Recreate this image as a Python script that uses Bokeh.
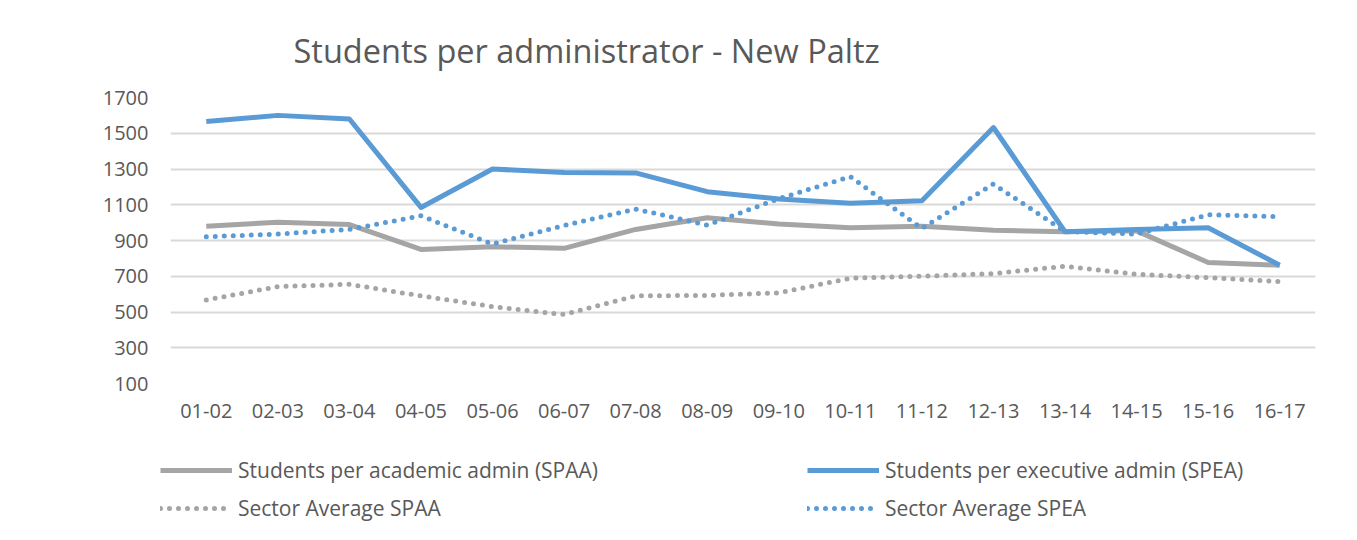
import numpy as np
from bokeh.plotting import figure
from bokeh.models import FactorRange, Range1d, FixedTicker, Legend, LegendItem, Title
from bokeh.layouts import column
from bokeh.embed import file_html
from bokeh.resources import INLINE

years = ["01-02", "02-03", "03-04", "04-05", "05-06", "06-07", "07-08", "08-09",
         "09-10", "10-11", "11-12", "12-13", "13-14", "14-15", "15-16", "16-17"]
spaa = [980, 1002, 989, 850, 865, 856, 962, 1027, 992, 971, 980, 958, 949, 954, 777, 762]
spea = [1566, 1600, 1580, 1085, 1300, 1280, 1278, 1173, 1132, 1108, 1122, 1532, 949, 962, 971, 762]
sector_spaa = [567, 642, 655, 590, 530, 486, 590, 593, 607, 689, 700, 715, 756, 711, 692, 670]
sector_spea = [921, 936, 962, 1038, 880, 984, 1076, 986, 1134, 1257, 967, 1216, 950, 936, 1044, 1033]
y_ticks = [100, 300, 500, 700, 900, 1100, 1300, 1500, 1700]
title_text = "Students per administrator - New Paltz"
labels = ["Students per academic admin (SPAA)", "Students per executive admin (SPEA)",
          "Sector Average SPAA", "Sector Average SPEA"]

GRAY = "#a5a5a5"
BLUE = "#5b9bd5"
TXT = "#595959"
FONT = "Open Sans"

p = figure(width=1357, height=440, x_range=FactorRange(*years, range_padding=0),
           y_range=Range1d(100, 1700), output_backend="svg", toolbar_location=None,
           min_border_left=170, min_border_right=42, min_border_top=97, min_border_bottom=57)
p.frame_align = False
p.outline_line_color = None
p.background_fill_color = "white"
p.border_fill_color = "white"

p.title = Title(text=title_text, text_font=FONT, text_font_size="32.5px", text_color=TXT,
                text_font_style="normal", align="left", offset=123, standoff=50)

p.xgrid.grid_line_color = None
p.ygrid.grid_line_color = "#d9d9d9"
p.ygrid.grid_line_width = 2
p.yaxis.ticker = FixedTicker(ticks=y_ticks)

for ax in (p.xaxis, p.yaxis):
    ax.axis_line_color = None
    ax.major_tick_line_color = None
    ax.minor_tick_line_color = None
    ax.major_tick_out = 0
    ax.major_tick_in = 0
    ax.major_label_text_font = FONT
    ax.major_label_text_font_size = "20px"
    ax.major_label_text_color = TXT
p.yaxis.major_label_standoff = 22
p.xaxis.major_label_standoff = 20

styles = [dict(line_color=GRAY, line_width=5, line_join="round"),
          dict(line_color=BLUE, line_width=5, line_join="round"),
          dict(line_color=GRAY, line_width=5, line_dash="0 9", line_cap="round"),
          dict(line_color=BLUE, line_width=5, line_dash="0 9", line_cap="round")]
for ys, st in zip([spaa, spea, sector_spaa, sector_spea], styles):
    p.line(years, ys, **st)

# legend strip below the chart
q = figure(width=1357, height=100, x_range=Range1d(0, 1357), y_range=Range1d(0, 100),
           output_backend="svg", toolbar_location=None,
           min_border_left=0, min_border_right=0, min_border_top=0, min_border_bottom=0)
q.frame_align = False
q.axis.visible = False
q.grid.visible = False
q.outline_line_color = None
q.border_fill_color = "white"
nan = np.array([np.nan])
dummies = [q.line(nan, nan, **st) for st in styles]

def mk_legend(idx, x):
    lg = Legend(items=[LegendItem(label=labels[i], renderers=[dummies[i]]) for i in idx],
                location=(x, 13), orientation="vertical",
                label_text_font=FONT, label_text_font_size="21px", label_text_color=TXT,
                glyph_width=72, glyph_height=38, label_height=38, label_standoff=6,
                spacing=0, padding=0, margin=0, border_line_color=None,
                background_fill_alpha=0)
    q.add_layout(lg, "center")

mk_legend([0, 2], 160)
mk_legend([1, 3], 807)

layout = column(p, q, spacing=0)
open("out.html", "w").write(file_html(layout, INLINE))
